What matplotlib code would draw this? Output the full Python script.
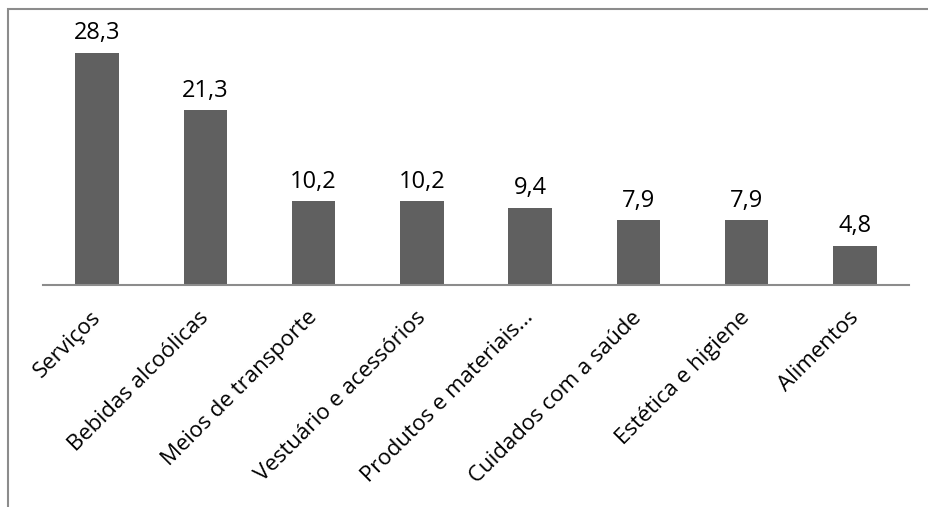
import matplotlib.pyplot as plt
from matplotlib.patches import Rectangle
from matplotlib.transforms import ScaledTranslation

categories = [
    "Serviços",
    "Bebidas alcoólicas",
    "Meios de transporte",
    "Vestuário e acessórios",
    "Produtos e materiais...",
    "Cuidados com a saúde",
    "Estética e higiene",
    "Alimentos",
]
values = [28.3, 21.3, 10.2, 10.2, 9.4, 7.9, 7.9, 4.8]

plt.rcParams["font.family"] = ["Open Sans", "DejaVu Sans"]

W, H = 929, 507
fig = plt.figure(figsize=(W / 100, H / 100), dpi=100)
ax = fig.add_axes([43 / W, (H - 285) / H, (909 - 43) / W, (285 - 20) / H])

x = range(len(categories))
bars = ax.bar(x, values, width=0.4, color="#606060", zorder=2)

for bar, v in zip(bars, values):
    ax.text(
        bar.get_x() + bar.get_width() / 2,
        v + 0.9,
        f"{v:.1f}".replace(".", ","),
        ha="center",
        va="bottom",
        fontsize=17,
        color="black",
    )

ax.set_xlim(-0.5, len(categories) - 0.5)
ax.set_ylim(0, 32.3)
ax.set_xticks(list(x))
ax.set_xticklabels(categories, rotation=45, ha="right", rotation_mode="anchor", fontsize=16)
ax.tick_params(axis="x", length=0, pad=8)
ax.set_yticks([])

# nudge the slanted labels down and left so they end just under each bar
offset = ScaledTranslation(-0.07, -0.11, fig.dpi_scale_trans)
for label in ax.get_xticklabels():
    label.set_transform(label.get_transform() + offset)

for side in ("top", "right", "left"):
    ax.spines[side].set_visible(False)
ax.spines["bottom"].set_color("#8c8c8c")
ax.spines["bottom"].set_linewidth(1.5)

# outer chart frame (only top and left edges fall inside the canvas)
fig.add_artist(
    Rectangle(
        (8 / W, -0.1),
        1.2,
        (H - 9) / H + 0.1,
        transform=fig.transFigure,
        fill=False,
        edgecolor="#8c8c8c",
        linewidth=1.5,
    )
)

fig.savefig("out.png", dpi=100)
